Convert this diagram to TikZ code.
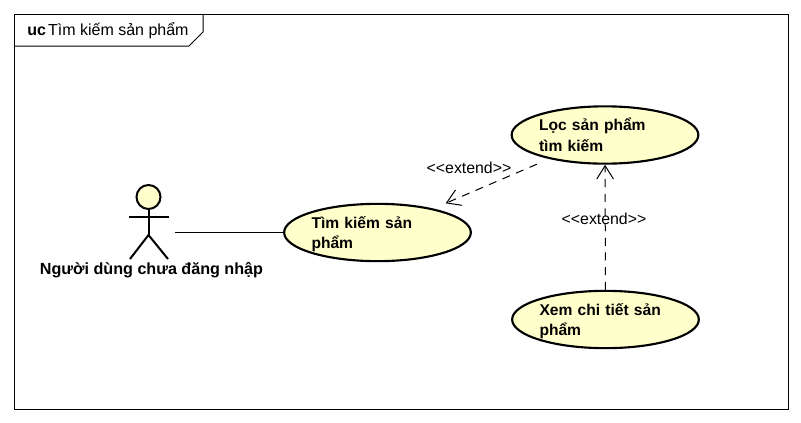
\documentclass[tikz,border=0pt]{standalone}
\usepackage{fontspec}
\setmainfont{Liberation Sans}
\usetikzlibrary{arrows.meta,shapes.geometric,positioning}
\definecolor{ucfill}{HTML}{FFFFCC}
\tikzset{
  usecase/.style={draw, ellipse, fill=ucfill, line width=1.6pt, inner sep=0pt,
                  text width=99pt, align=left, minimum width=140pt, minimum height=43pt,
                  font=\fontsize{11.7}{15.4}\selectfont\bfseries,
                  execute at begin node={\rule{0pt}{12pt}},
                  execute at end node={\rule[-3pt]{0pt}{3pt}}},
  stick/.style={line width=1.5pt},
  assoc/.style={line width=0.75pt},
  extend/.style={dashed, dash pattern=on 6pt off 5pt, line width=0.75pt,
                 -{Straight Barb[length=10pt,width=12.5pt,line width=0.75pt]}},
  elab/.style={font=\fontsize{11.9}{13}\selectfont, inner sep=0pt},
}
\begin{document}
\begin{tikzpicture}[x=0.75pt, y=-0.75pt]
\useasboundingbox (0,0) rectangle (801,422);

% frame
\node[draw, line width=0.75pt, minimum width=580.5pt, minimum height=296.25pt, inner sep=0pt] (frame) at (401,211.5) {};
\coordinate (tabb) at (14,46);
\coordinate (tabc) at (189,46);
\coordinate (tabd) at (203,32);
\coordinate (tabe) at (203,14);
\draw[line width=0.75pt] (tabb) -- (tabc) -- (tabd) -- (tabe);
\node[font=\fontsize{12}{15}\selectfont, anchor=west, inner sep=0pt] (title) at (27,31)
  {\textbf{uc}\hspace{1.6pt}Tìm kiếm sản phẩm};

% actor
\node[draw, circle, fill=ucfill, line width=1.5pt, minimum size=18pt, inner sep=0pt] (head) at (148.5,197) {};
\coordinate (hipp) at (148.5,235);
\coordinate (armw) at (129,217);
\coordinate (arme) at (169,217);
\coordinate (legw) at (130,259);
\coordinate (lege) at (168,259);
\draw[stick] (head) -- (hipp);
\draw[stick] (armw) -- (arme);
\draw[stick] (legw) -- (hipp) -- (lege);
\node[font=\fontsize{12.1}{15}\selectfont\bfseries, inner sep=0pt] (user) at (151.5,270)
  {Người dùng chưa đăng nhập};

% use cases
\node[usecase] (search) at (377.5,232.5) {Tìm kiếm sản phẩm};
\node[usecase] (filter) at (605,135) {Lọc sản phẩm tìm kiếm};
\node[usecase] (detail) at (605.5,319.5) {Xem chi tiết sản phẩm};

\coordinate (userend) at (175,232.5);
\draw[assoc] (userend) -- (search);

\draw[extend, shorten <=10pt, shorten >=10pt] (filter) -- (search);
\draw[extend] (detail) -- (filter);

\node[elab] (lab1) at (469,167.5) {<{}<extend>{}>};
\node[elab] (lab2) at (604,218.5) {<{}<extend>{}>};

\end{tikzpicture}
\end{document}
